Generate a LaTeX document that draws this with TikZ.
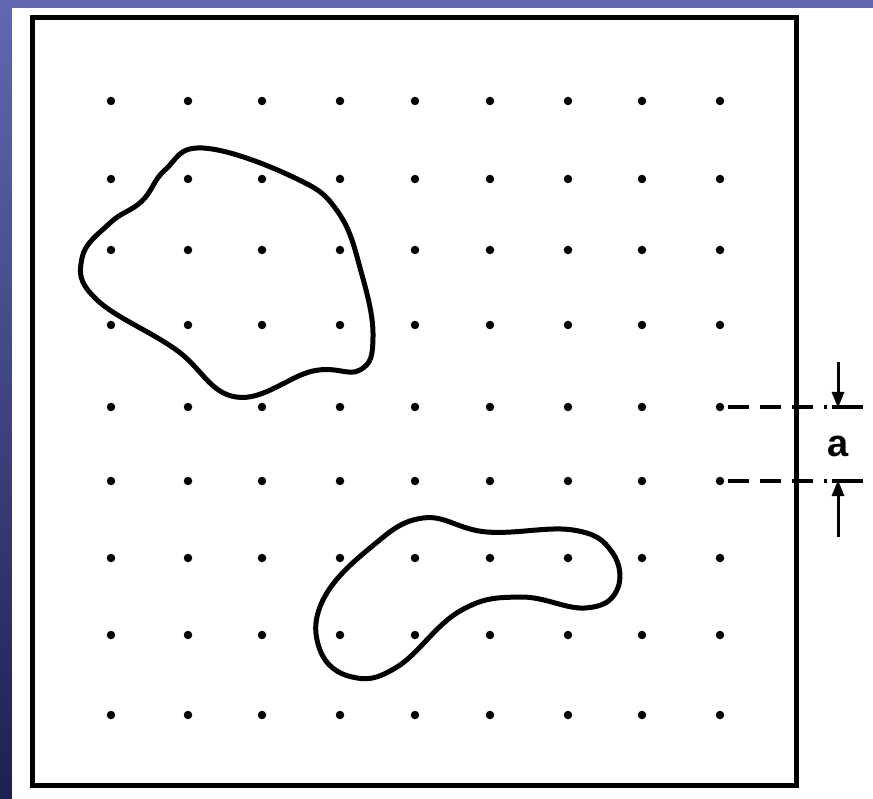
\documentclass[tikz,border=0pt]{standalone}
\usepackage{fontspec}
\setmainfont{Liberation Sans}
\usetikzlibrary{arrows.meta}
\definecolor{bgtop}{RGB}{96,104,176}
\definecolor{bgbot}{RGB}{30,32,82}
\tikzset{
  blob/.style={line width=5pt, line join=round},
  griddot/.style={circle, fill=black, inner sep=0pt, minimum size=8.5pt},
  dimline/.style={line width=3.6pt, dash pattern=on 21pt off 11pt},
  extline/.style={line width=3.2pt},
  dimarrow/.style={line width=3pt, -{Triangle[length=16pt,width=12pt]}},
}
\begin{document}
\begin{tikzpicture}[x=1pt,y=-1pt]
\useasboundingbox (0,0) rectangle (873,799);
% background
\shade[top color=bgtop, bottom color=bgbot] (0,0) rectangle (873,799);
\fill[white] (12,8) rectangle (873,799);
% frame
\draw[line width=5pt] (32,18) rectangle (796,785);
% grid of dots
\foreach \x [count=\i] in {111,188,262,340,415,490,568,642,720}{
  \foreach \y [count=\j] in {101,179,250,325,407,481,558,635,715}{
    \node[griddot] (d\i-\j) at (\x,\y) {};
  }
}
% upper-left blob
\draw[blob] plot[smooth cycle, tension=0.7] coordinates {
  (203,148) (293,177) (338,212) (362,275) (373,337) (360,370)
  (313,371) (236,397) (175,349) (96,299) (82,258) (110,223)
  (142,201) (165,170)};
% lower blob
\draw[blob] plot[smooth cycle, tension=0.7] coordinates {
  (423,518) (487,532) (573,530) (612,552) (617,590) (585,608)
  (520,597) (460,611) (397,667) (352,677) (320,650) (323,600)
  (370,548)};
% dimension lines
\coordinate (te) at (863,407);
\coordinate (be) at (863,481);
\coordinate (ts) at (838,362);
\coordinate (bs) at (838,537);
\draw[dimline] ([xshift=4pt]d9-5.east) -- (827,407);
\draw[dimline] ([xshift=4pt]d9-6.east) -- (827,481);
\draw[extline] (832,407) -- (te);
\draw[extline] (832,481) -- (be);
\draw[dimarrow] (ts) -- (838,408);
\draw[dimarrow] (bs) -- (838,480);
\node[font=\bfseries\fontsize{38}{40}\selectfont, inner sep=0pt] (a) at (838,446) {a};
\end{tikzpicture}
\end{document}
